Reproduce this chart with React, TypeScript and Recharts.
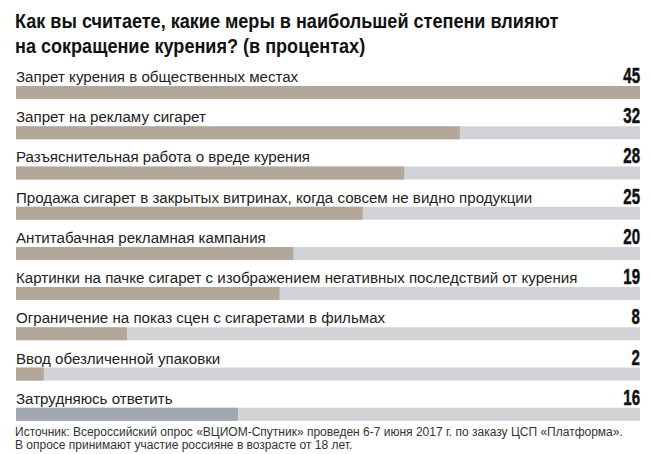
import React from 'react';
import { BarChart, Bar, XAxis, YAxis, Cell, LabelList } from 'recharts';

const categories = [
  'Запрет курения в общественных местах',
  'Запрет на рекламу сигарет',
  'Разъяснительная работа о вреде курения',
  'Продажа сигарет в закрытых витринах, когда совсем не видно продукции',
  'Антитабачная рекламная кампания',
  'Картинки на пачке сигарет с изображением негативных последствий от курения',
  'Ограничение на показ сцен с сигаретами в фильмах',
  'Ввод обезличенной упаковки',
  'Затрудняюсь ответить',
];
const values = [45, 32, 28, 25, 20, 19, 8, 2, 16];
const titleLines = [
  'Как вы считаете, какие меры в наибольшей степени влияют',
  'на сокращение курения? (в процентах)',
];
const footerLines = [
  'Источник: Всероссийский опрос «ВЦИОМ-Спутник» проведен 6-7 июня 2017 г. по заказу ЦСП «Платформа».',
  'В опросе принимают участие россияне в возрасте от 18 лет.',
];

const data = categories.map((name, i) => ({ name, value: values[i] }));

const FONT = '"Liberation Sans", Arial, sans-serif';
const TAN = '#b2a798';
const TRACK = '#d2d3d6';
const SLATE = '#a0a7b1';
const RIGHT = 640;

const NameLabel = (props: any) => {
  const { x, y, value } = props;
  return (
    <text
      transform={`translate(${x},${y - 4}) scale(0.975,1)`}
      fontFamily={FONT}
      fontSize={15.5}
      fill="#222"
      textAnchor="start"
    >
      {value}
    </text>
  );
};

const ValueLabel = (props: any) => {
  const { y, value } = props;
  return (
    <text
      transform={`translate(${RIGHT},${y - 3}) scale(0.7,1)`}
      fontFamily={FONT}
      fontSize={21.5}
      fontWeight="bold"
      fill="#111"
      stroke="#111"
      strokeWidth={0.5}
      textAnchor="end"
    >
      {value}
    </text>
  );
};

export default function App() {
  return (
    <div style={{ position: 'absolute', left: 0, top: 0, width: 650, height: 454, background: '#fff', fontFamily: FONT }}>
      <div
        style={{
          position: 'absolute',
          left: 15,
          top: 8,
          fontSize: 21,
          fontWeight: 'bold',
          lineHeight: '25px',
          color: '#111',
          whiteSpace: 'nowrap',
          transform: 'scaleX(0.86)',
          transformOrigin: '0 0',
        }}
      >
        {titleLines.map((l, i) => (
          <div key={i}>{l}</div>
        ))}
      </div>
      <BarChart
        width={650}
        height={454}
        data={data}
        layout="vertical"
        margin={{ top: 72, right: 10, bottom: 20, left: 16 }}
      >
        <XAxis type="number" domain={[0, 45]} hide />
        <YAxis type="category" dataKey="name" hide />
        <Bar dataKey="value" barSize={13} background={{ fill: TRACK }} isAnimationActive={false}>
          {data.map((d, i) => (
            <Cell key={i} fill={i === data.length - 1 ? SLATE : TAN} />
          ))}
          <LabelList dataKey="name" content={NameLabel} />
          <LabelList dataKey="value" content={ValueLabel} />
        </Bar>
      </BarChart>
      <div style={{ position: 'absolute', left: 15, top: 425.5, fontSize: 12, lineHeight: '13.5px', color: '#333', whiteSpace: 'nowrap' }}>
        {footerLines.map((l, i) => (
          <div key={i}>{l}</div>
        ))}
      </div>
    </div>
  );
}
